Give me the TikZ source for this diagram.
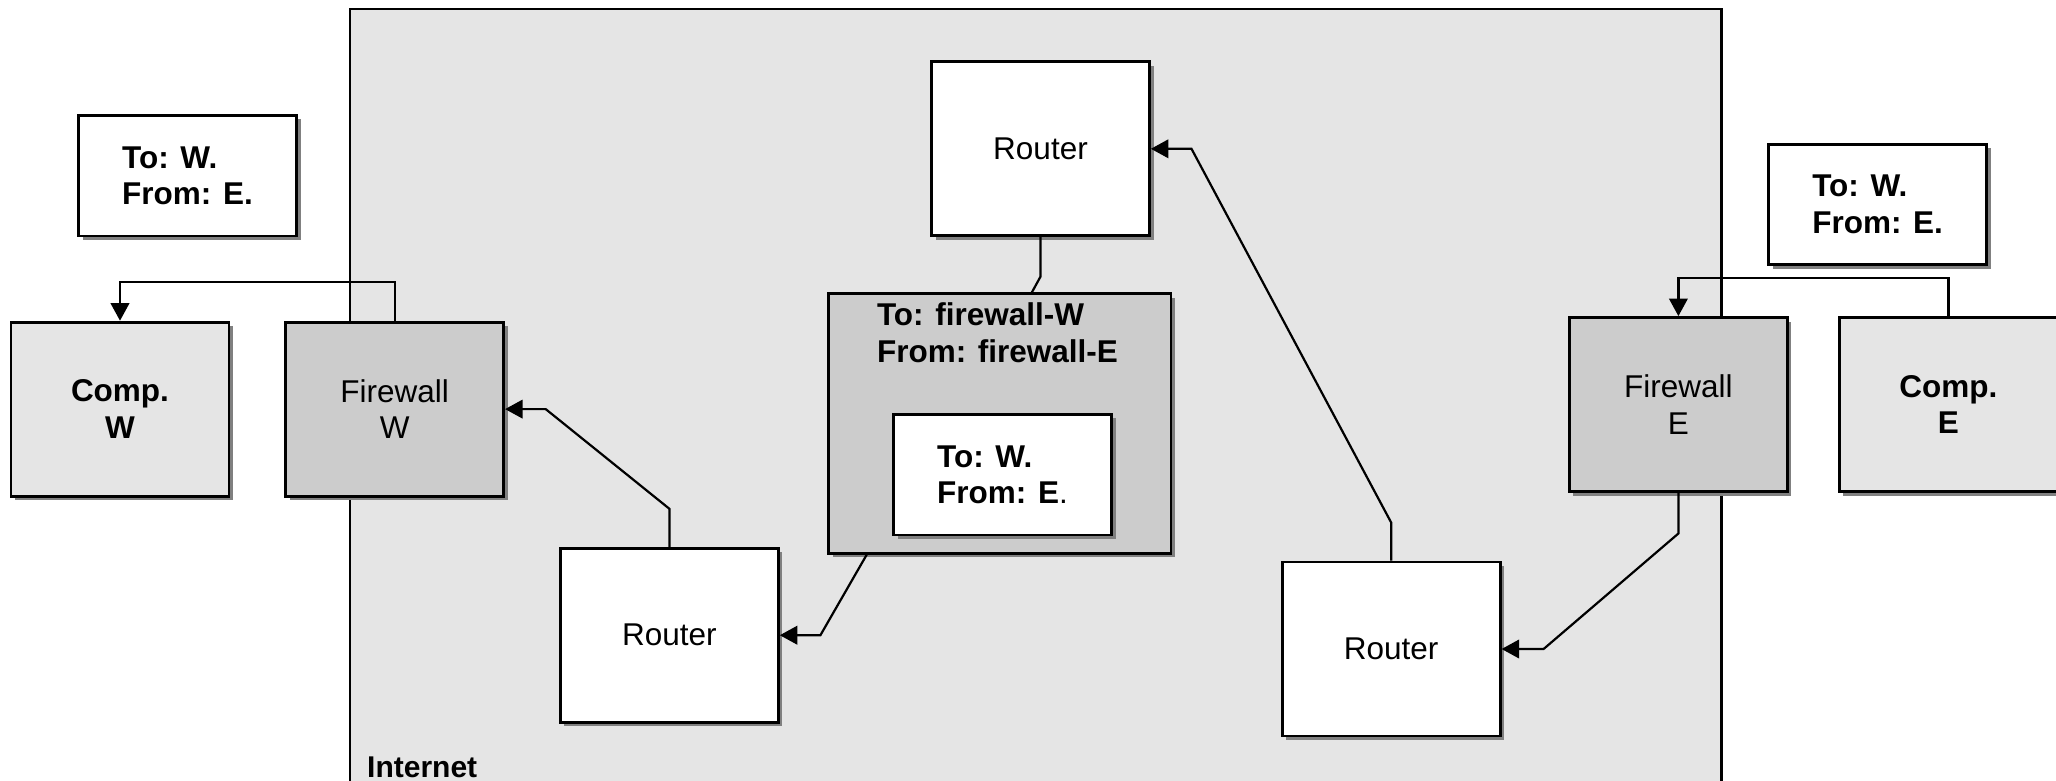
\documentclass[tikz,border=0pt]{standalone}
\usepackage{fontspec}
\setmainfont{Liberation Sans}
\usetikzlibrary{arrows.meta,shadows,calc}
\definecolor{netgray}{HTML}{E5E5E5}
\definecolor{fwgray}{HTML}{CCCCCC}
\definecolor{shadowgray}{HTML}{808080}
\tikzset{
  txt/.style={font=\fontsize{31.5}{36.7}\selectfont, inner sep=0pt},
  box/.style={draw, line width=2.8pt, txt, align=center,
    minimum width=218pt, minimum height=174pt,
    drop shadow={shadow xshift=4pt, shadow yshift=-4pt, fill=shadowgray, opacity=1}},
  routerbox/.style={box, fill=white},
  fwbox/.style={box, fill=fwgray},
  compbox/.style={box, fill=netgray, font=\fontsize{31.5}{36.7}\selectfont\bfseries},
  msgbox/.style={box, fill=white, minimum height=120.7pt, align=left,
    font=\fontsize{31.5}{36.7}\selectfont\bfseries},
  conn/.style={line width=2.2pt, line join=miter},
  arr/.style={conn, -{Triangle[length=17.5pt,width=18.5pt]}}
}
\begin{document}
\begin{tikzpicture}[x=1pt,y=-1pt]
\useasboundingbox (0,0) rectangle (2056,780);
\clip (0,0) rectangle (2056,780);

% Internet cloud area
\node[draw, line width=2.6pt, fill=netgray, inner sep=0pt, outer sep=0pt,
  minimum width=1371.5pt, minimum height=800pt, anchor=north west] (net) at (350,9) {};
\node[txt, font=\fontsize{30}{36}\selectfont\bfseries, anchor=base west] (netlabel) at (367,777) {Internet};

% Hosts and firewalls
\node[compbox] (compW) at (120,409.1) {Comp.\\W};
\node[fwbox] (fwW) at (394.7,409.1) {Firewall\\W};
\node[fwbox] (fwE) at (1678.4,404.5) {Firewall\\E};
\node[compbox] (compE) at (1948.4,404.5) {Comp.\\E};

% Routers
\node[routerbox] (rT) at (1040.5,148.8) {Router};
\node[routerbox] (rL) at (669.4,635.2) {Router};
\node[routerbox] (rR) at (1391.2,649) {Router};

% Messages
\node[msgbox] (msgW) at (187.5,175.7) {To: W.\\From: E.};
\node[msgbox] (msgE) at (1877.6,204.5) {To: W.\\From: E.};
\node[box, fill=fwgray, minimum width=342.2pt, minimum height=259.6pt] (pkt) at (999.8,423.5) {};
\node[txt, font=\fontsize{31.5}{36.7}\selectfont\bfseries, align=left] (pkthead) at (997.5,333) {To: firewall-W\\From: firewall-E};
\node[msgbox] (inner) at (1002.5,474.7) {To: W.\\From: E\textmd{.}};

% Links
\draw[arr] (fwW.north) -- ++(0,-38.6) -| (compW.north);
\draw[arr] (compE.north) -- ++(0,-38) -| (fwE.north);
\draw[conn] (rT.south) -- ++(0,39.4) -- ($(pkt.north)+(32.1,0)$);
\draw[arr] ($(pkt.south)+(-133.1,0)$) -- ($(rL.east)+(40.6,0)$) -- (rL.east);
\draw[arr] (rL.north) -- ++(0,-38) -- ($(fwW.east)+(40.6,0)$) -- (fwW.east);
\draw[arr] (rR.north) -- ++(0,-38) -- ($(rT.east)+(40.6,0)$) -- (rT.east);
\draw[arr] (fwE.south) -- ++(0,40.6) -- ($(rR.east)+(42,0)$) -- (rR.east);
\end{tikzpicture}
\end{document}
